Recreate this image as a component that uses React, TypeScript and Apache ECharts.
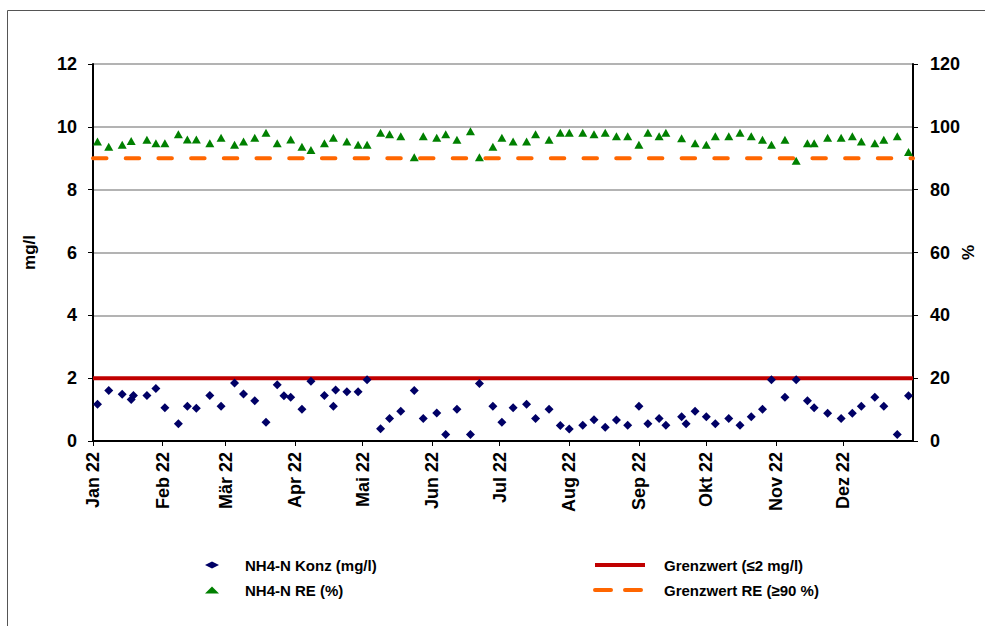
import React, { useEffect, useRef } from "react";
import * as echarts from "echarts";

// ---- data ----
const sampleDates = [
  "2022-01-03", "2022-01-08", "2022-01-14", "2022-01-18", "2022-01-19", "2022-01-25", "2022-01-29",
  "2022-02-02", "2022-02-08", "2022-02-12", "2022-02-16", "2022-02-22", "2022-02-27",
  "2022-03-05", "2022-03-09", "2022-03-14", "2022-03-19", "2022-03-24", "2022-03-27", "2022-03-30",
  "2022-04-04", "2022-04-08", "2022-04-14", "2022-04-18", "2022-04-19", "2022-04-24", "2022-04-29",
  "2022-05-03", "2022-05-09", "2022-05-13", "2022-05-18", "2022-05-24", "2022-05-28",
  "2022-06-03", "2022-06-07", "2022-06-12", "2022-06-18", "2022-06-22", "2022-06-28",
  "2022-07-02", "2022-07-07", "2022-07-13", "2022-07-17", "2022-07-23", "2022-07-28",
  "2022-08-01", "2022-08-07", "2022-08-12", "2022-08-17", "2022-08-22", "2022-08-27",
  "2022-09-01", "2022-09-05", "2022-09-10", "2022-09-13", "2022-09-20", "2022-09-22", "2022-09-26",
  "2022-10-01", "2022-10-05", "2022-10-11", "2022-10-16", "2022-10-21", "2022-10-26", "2022-10-30",
  "2022-11-05", "2022-11-10", "2022-11-15", "2022-11-18", "2022-11-24", "2022-11-30",
  "2022-12-05", "2022-12-09", "2022-12-15", "2022-12-19", "2022-12-25", "2022-12-30",
];

const concValues = [
  1.17, 1.61, 1.49, 1.32, 1.45, 1.45, 1.67,
  1.06, 0.55, 1.11, 1.04, 1.45, 1.11,
  1.85, 1.5, 1.28, 0.6, 1.79, 1.44, 1.39,
  1.01, 1.9, 1.45, 1.11, 1.62, 1.57, 1.57,
  1.95, 0.39, 0.72, 0.95, 1.61, 0.72,
  0.89, 0.21, 1.01, 0.21, 1.83, 1.11,
  0.6, 1.06, 1.17, 0.72, 1.01, 0.49,
  0.38, 0.5, 0.68, 0.44, 0.67, 0.5,
  1.11, 0.55, 0.72, 0.5, 0.77, 0.55, 0.95,
  0.77, 0.55, 0.72, 0.5, 0.77, 1.01, 1.95,
  1.39, 1.95, 1.28, 1.06, 0.88, 0.72,
  0.88, 1.11, 1.39, 1.11, 0.21, 1.44,
];

const reValues: (number | null)[] = [
  95.3, 93.7, 94.3, 95.5, null, 95.9, 94.8,
  94.8, 97.6, 96.0, 96.0, 94.8, 96.5,
  94.3, 95.3, 96.5, 98.1, 94.8, null, 96.0,
  93.7, 92.6, 94.8, 96.5, null, 95.3, 94.3,
  94.3, 98.1, 97.6, 97.0, 90.3, 97.0,
  96.5, 97.6, 95.9, 98.6, 90.3, 93.7,
  96.5, 95.3, 95.3, 97.6, 95.9, 98.1,
  98.1, 98.1, 97.6, 98.1, 97.0, 97.0,
  94.3, 98.1, 97.0, 98.1, 96.4, null, 94.8,
  94.3, 97.0, 97.0, 98.1, 97.0, 95.9, 94.3,
  95.9, 89.2, 94.8, 94.8, 96.5, 96.5,
  97.0, 95.3, 94.8, 95.9, 97.0, 92.0,
];

const monthLabels = ["Jan", "Feb", "Mär", "Apr", "Mai", "Jun", "Jul", "Aug", "Sep", "Okt", "Nov", "Dez"];
const axisStart = "2022-01-01";
const axisEnd = "2023-01-01";
const limitConc = 2;
const limitRE = 90;

const nameConc = "NH4-N Konz (mg/l)";
const nameRE = "NH4-N RE (%)";
const nameLimit = "Grenzwert (≤2 mg/l)";
const nameLimitRE = "Grenzwert RE (≥90 %)";

const toTime = (s: string) => {
  const [y, m, d] = s.split("-").map(Number);
  return new Date(y, m - 1, d).getTime();
};

const FONT = "'Liberation Sans', Arial, sans-serif";

export default function App() {
  const ref = useRef<HTMLDivElement>(null);

  useEffect(() => {
    if (!ref.current) return;
    const chart = echarts.init(ref.current, undefined, { renderer: "svg" });
    const tMin = toTime(axisStart);
    const tMax = toTime(axisEnd);
    const DAY = 86400000;

    const concData = sampleDates.map((d, i) => [toTime(d), concValues[i]]);
    const reData = sampleDates
      .map((d, i) => [toTime(d), reValues[i]])
      .filter((p) => p[1] !== null);

    const legendText = { fontFamily: FONT, fontWeight: "bold" as const, fontSize: 15, color: "#000", lineHeight: 16 };

    chart.setOption({
      animation: false,
      backgroundColor: "#fff",
      textStyle: { fontFamily: FONT },
      grid: {
        left: 93,
        right: 72,
        top: 64,
        bottom: 185,
        outerBoundsMode: "none",
        containLabel: false,
        show: true,
        borderColor: "#000",
        borderWidth: 1,
        backgroundColor: "transparent",
      },
      graphic: [
        {
          type: "rect",
          shape: { x: 7.5, y: 10.5, width: 1000, height: 700 },
          style: { fill: "none", stroke: "#555", lineWidth: 1 },
          silent: true,
        },
      ],
      legend: [
        {
          data: [nameConc],
          left: 200,
          top: 552,
          itemWidth: 14,
          itemHeight: 7,
          textStyle: { ...legendText, padding: [0, 0, 0, 21] },
        },
        {
          data: [nameRE],
          left: 200,
          top: 577,
          itemWidth: 14,
          itemHeight: 7,
          textStyle: { ...legendText, padding: [0, 0, 0, 21] },
        },
        {
          data: [nameLimit],
          left: 588,
          top: 552,
          itemWidth: 50,
          itemHeight: 14,
          itemStyle: { opacity: 0 },
          lineStyle: { width: 4, color: "#c00000" },
          textStyle: { ...legendText, padding: [0, 0, 0, 14] },
        },
        {
          data: [nameLimitRE],
          left: 588,
          top: 577,
          itemWidth: 50,
          itemHeight: 14,
          itemStyle: { opacity: 0 },
          lineStyle: { width: 4, color: "#ff6600", type: [16, 14], cap: "round" },
          textStyle: { ...legendText, padding: [0, 0, 0, 14] },
        },
      ],
      xAxis: {
        type: "time",
        min: tMin,
        max: tMax,
        minInterval: 28 * DAY,
        maxInterval: 31 * DAY,
        splitNumber: 12,
        axisLine: { show: true, lineStyle: { color: "#000", width: 2 } },
        axisTick: { show: true, length: 5, lineStyle: { color: "#000", width: 1 } },
        splitLine: { show: false },
        axisLabel: {
          rotate: 90,
          margin: 11,
          fontFamily: FONT,
          fontWeight: "bold",
          fontSize: 18,
          color: "#000",
          showMaxLabel: false,
          formatter: (val: number) => {
            const d = new Date(val);
            if (d.getFullYear() !== 2022) return "";
            return monthLabels[d.getMonth()] + " " + String(d.getFullYear()).slice(2);
          },
        },
      },
      yAxis: [
        {
          type: "value",
          min: 0,
          max: 12,
          interval: 2,
          name: "mg/l",
          nameLocation: "middle",
          nameGap: 55,
          nameMoveOverlap: false,
          nameTextStyle: { fontFamily: FONT, fontWeight: "bold", fontSize: 17, color: "#000" },
          axisLine: { show: true, lineStyle: { color: "#000", width: 2 } },
          axisTick: { show: true, length: 5, lineStyle: { color: "#000" } },
          axisLabel: { margin: 16, fontFamily: FONT, fontWeight: "bold", fontSize: 18, color: "#000" },
          splitLine: { show: true, lineStyle: { color: "#b3b3b3", width: 2 } },
        },
        {
          type: "value",
          min: 0,
          max: 120,
          interval: 20,
          name: "%",
          nameLocation: "middle",
          nameGap: 47,
          nameMoveOverlap: false,
          nameTextStyle: { fontFamily: FONT, fontWeight: "bold", fontSize: 17, color: "#000" },
          axisLine: { show: true, lineStyle: { color: "#000", width: 2 } },
          axisTick: { show: true, length: 5, lineStyle: { color: "#000" } },
          axisLabel: { margin: 17, fontFamily: FONT, fontWeight: "bold", fontSize: 18, color: "#000" },
          splitLine: { show: false },
        },
      ],
      series: [
        {
          name: nameLimit,
          type: "line",
          yAxisIndex: 0,
          data: [
            [tMin, limitConc],
            [tMax, limitConc],
          ],
          symbol: "none",
          lineStyle: { color: "#c00000", width: 4 },
          itemStyle: { color: "#c00000" },
          z: 1,
        },
        {
          name: nameLimitRE,
          type: "line",
          yAxisIndex: 1,
          data: [
            [tMin, limitRE],
            [tMax, limitRE],
          ],
          symbol: "none",
          lineStyle: { color: "#ff6600", width: 4, type: [13.5, 19.2], cap: "round" },
          itemStyle: { color: "#ff6600" },
          z: 1,
        },
        {
          name: nameConc,
          type: "scatter",
          yAxisIndex: 0,
          data: concData,
          symbol: "diamond",
          symbolSize: 9,
          itemStyle: { color: "#000066", opacity: 1 },
          z: 3,
        },
        {
          name: nameRE,
          type: "scatter",
          yAxisIndex: 1,
          data: reData,
          symbol: "triangle",
          symbolSize: [9, 8],
          itemStyle: { color: "#008000", opacity: 1 },
          z: 3,
        },
      ],
    });

    return () => chart.dispose();
  }, []);

  return (
    <div
      ref={ref}
      style={{ position: "fixed", left: 0, top: 0, width: 985, height: 626, background: "#fff" }}
    />
  );
}
